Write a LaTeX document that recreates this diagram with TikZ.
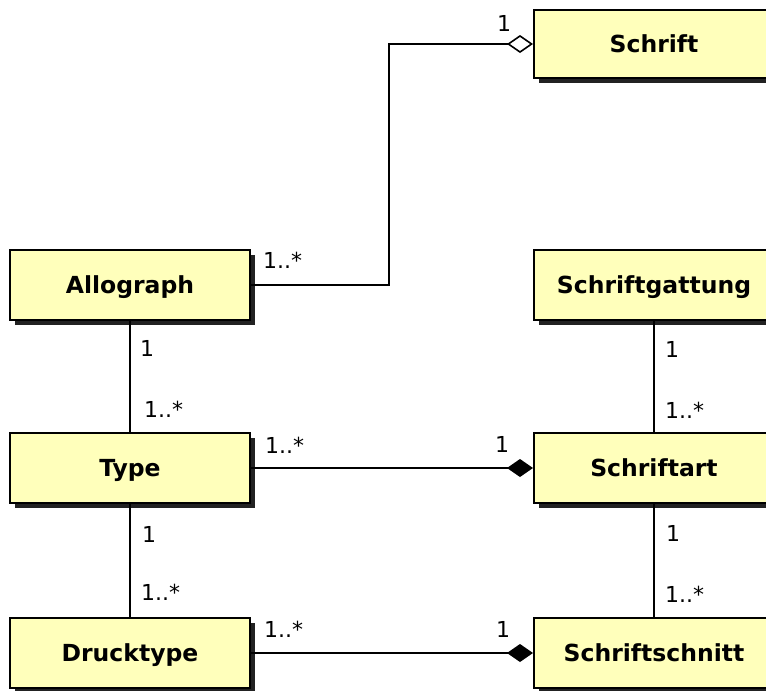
\documentclass[tikz,border=0pt]{standalone}
\usepackage{fontspec}
\setmainfont{DejaVu Sans}
\usetikzlibrary{arrows.meta,shadows}
\definecolor{boxfill}{HTML}{FFFFBB}
\definecolor{shadowc}{HTML}{222222}
\tikzset{
  umlbox/.style={draw=black, line width=2pt, fill=boxfill, minimum width=240pt, minimum height=70pt,
    inner sep=0pt, font=\fontsize{23.5}{27}\selectfont\bfseries, text height=17.1pt, text depth=0pt,
    drop shadow={shadow xshift=5pt, shadow yshift=-5pt, fill=shadowc, opacity=1}},
  conn/.style={line width=1.6pt, draw=black},
  lab/.style={font=\fontsize{22}{26}\selectfont, inner sep=0pt, anchor=base west},
  comp/.style={conn, -{Diamond[length=26pt,width=18pt,fill=black]}},
  aggr/.style={conn, -{Diamond[open,length=26pt,width=18pt]}}
}
\begin{document}
\begin{tikzpicture}[x=1pt,y=-1pt]
\useasboundingbox (0,0) rectangle (766,691);
\node[umlbox, minimum height=68pt] (schrift) at (654,44) {Schrift};
\node[umlbox] (allo) at (130,285) {Allograph};
\node[umlbox] (gatt) at (654,285) {Schriftgattung};
\node[umlbox] (type) at (130,468) {Type};
\node[umlbox] (art) at (654,468) {Schriftart};
\node[umlbox] (druck) at (130,653) {Drucktype};
\node[umlbox] (schnitt) at (654,653) {Schriftschnitt};
\coordinate (bend) at (389,44);
\draw[aggr] (allo.east) -| (bend) -- (schrift.west);
\draw[conn] (allo.south) -- (type.north);
\draw[conn] (type.south) -- (druck.north);
\draw[conn] (gatt.south) -- (art.north);
\draw[conn] (art.south) -- (schnitt.north);
\draw[comp] (type.east) -- (art.west);
\draw[comp] (druck.east) -- (schnitt.west);
\node[lab] (l1) at (497,31) {1};
\node[lab] (l2) at (263,268) {1..*};
\node[lab] (l3) at (140,356) {1};
\node[lab] (l4) at (144,417) {1..*};
\node[lab] (l5) at (265,453) {1..*};
\node[lab] (l6) at (495,452) {1};
\node[lab] (l7) at (142,542) {1};
\node[lab] (l8) at (141,600) {1..*};
\node[lab] (l9) at (264,637) {1..*};
\node[lab] (l10) at (496,637) {1};
\node[lab] (l11) at (665,357) {1};
\node[lab] (l12) at (665,418) {1..*};
\node[lab] (l13) at (666,541) {1};
\node[lab] (l14) at (665,602) {1..*};
\end{tikzpicture}
\end{document}
